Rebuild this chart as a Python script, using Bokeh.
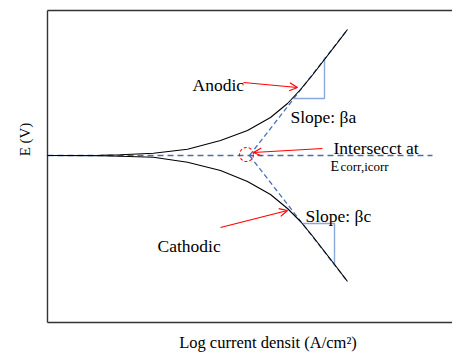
import math
from bokeh.plotting import figure
from bokeh.models import Range1d, Arrow, OpenHead
from bokeh.core.properties import value
from bokeh.embed import file_html
from bokeh.resources import INLINE

# ---- data (log current density, arbitrary units; potential in V relative to Ecorr) ----
log_i = [0, 1.325, 1.825, 2.65, 3.5, 4.325, 5.0, 5.575, 6.0, 6.325, 6.625, 6.925, 7.225, 7.5]
E_anodic = [0, 0.003, 0.007, 0.023, 0.063, 0.15, 0.25, 0.38, 0.52, 0.66, 0.805, 0.96, 1.115, 1.26]
E_cathodic = [0, -0.003, -0.007, -0.017, -0.067, -0.15, -0.26, -0.39, -0.53, -0.66, -0.805, -0.96, -1.115, -1.26]

log_icorr = 5.05
E_corr = 0.0
tafel_x = [log_icorr, 7.5]
tafel_anodic = [E_corr, 1.26]
tafel_cathodic = [E_corr, -1.26]
ecorr_line_x = [0, 9.625]
ecorr_line_y = [E_corr, E_corr]

slope_a_x = [6.125, 6.925, 6.925]
slope_a_y = [0.57, 0.57, 0.98]
slope_c_x = [6.375, 7.175, 7.175]
slope_c_y = [-0.68, -0.68, -1.10]

x_label = "Log current densit (A/cm\u00b2)"
y_label = "E (V)"

FONT = value("Liberation Serif")

p = figure(width=452, height=356, output_backend="svg", toolbar_location=None,
           x_axis_location=None, y_axis_location=None,
           x_range=Range1d(-1.175, 10.125), y_range=Range1d(-2.01, 1.55),
           min_border=0, min_border_left=0, min_border_right=0,
           min_border_top=0, min_border_bottom=0)
p.outline_line_color = None
p.grid.visible = False
p.background_fill_color = "white"
p.border_fill_color = "white"

# axis box (left, top, bottom; right edge lies outside the picture)
box_col = "#333333"
p.line([0, 0], [1.45, -1.67], line_color=box_col, line_width=1.4)
p.line([0, 10.3], [1.45, 1.45], line_color=box_col, line_width=1.4)
p.line([0, 10.3], [-1.67, -1.67], line_color=box_col, line_width=1.4)

# Ecorr dashed line
p.line(ecorr_line_x, ecorr_line_y, line_color="#4a6ea8", line_width=1.4, line_dash="6 4")

# Tafel extrapolations
p.line(tafel_x, tafel_anodic, line_color="#4a72b8", line_width=1.3, line_dash="5 3")
p.line(tafel_x, tafel_cathodic, line_color="#4a72b8", line_width=1.3, line_dash="5 3")

# slope triangles
p.line(slope_a_x, slope_a_y, line_color="#8aa8dc", line_width=1.4)
p.line(slope_c_x, slope_c_y, line_color="#8aa8dc", line_width=1.4)

# polarization curves
p.line(log_i, E_anodic, line_color="black", line_width=1.1)
p.line(log_i, E_cathodic, line_color="black", line_width=1.1)

# intersection circle
p.scatter([4.975], [0.01], marker="circle", size=14, fill_color=None,
          line_color="red", line_width=1.1, line_dash="3 2")

# arrows
for xs, ys, xe, ye in [(4.9, 0.73, 6.25, 0.68),
                       (6.875, 0.07, 5.15, 0.03),
                       (4.325, -0.72, 6.0, -0.55)]:
    p.add_layout(Arrow(end=OpenHead(size=8, line_color="red", line_width=1.2),
                       x_start=xs, y_start=ys, x_end=xe, y_end=ye,
                       line_color="red", line_width=1.2))

# annotation texts
p.text(x=[3.625, 6.075, 7.15, 6.45, 2.75], y=[0.71, 0.39, 0.08, -0.60, -0.90],
       text=["Anodic", "Slope: \u03b2a", "Intersecct at", "Slope: \u03b2c", "Cathodic"],
       text_font=FONT, text_font_size="17.5px", text_align="left",
       text_baseline="alphabetic", text_color="black")
p.text(x=[7.075], y=[-0.11], text=["E"], text_font=FONT, text_font_size="14px",
       text_align="left", text_baseline="alphabetic", text_color="black")
p.text(x=[7.325], y=[-0.11], text=["corr,icorr"], text_font=FONT, text_font_size="13px",
       text_align="left", text_baseline="alphabetic", text_color="black")

# axis titles
p.text(x=[5.5125], y=[-1.87], text=[x_label], text_font=FONT, text_font_size="16.5px",
       text_align="center", text_baseline="alphabetic", text_color="black")
p.text(x=[-0.575], y=[0.16], text=[y_label], text_font=FONT, text_font_size="15px",
       text_align="center", text_baseline="middle", angle=math.pi / 2, text_color="black")

open("out.html", "w").write(file_html(p, INLINE))
